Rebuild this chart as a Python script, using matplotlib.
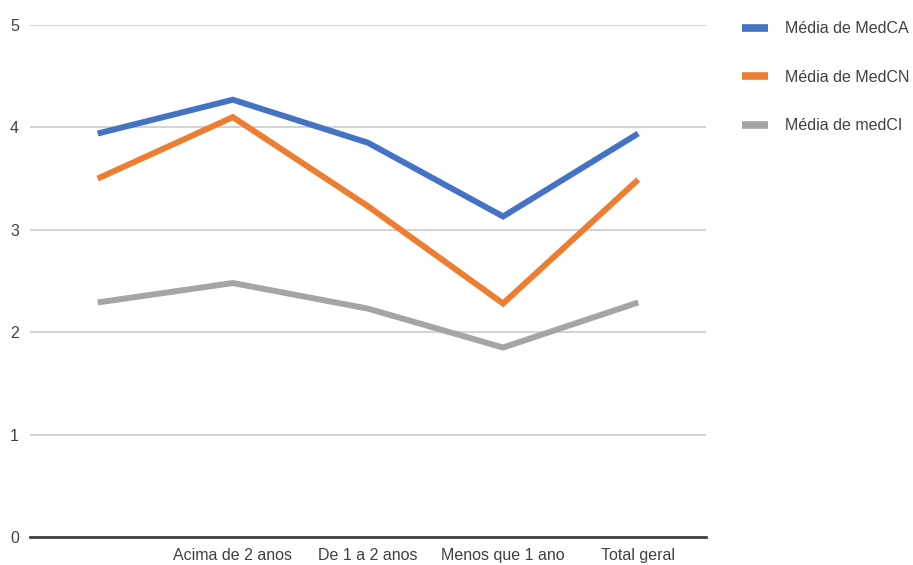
import numpy as np
import matplotlib.pyplot as plt

plt.rcParams['font.family'] = ['Liberation Sans Narrow', 'Liberation Sans', 'DejaVu Sans']

categories = ["", "Acima de 2 anos", "De 1 a 2 anos", "Menos que 1 ano", "Total geral"]
med_ca = [3.94, 4.27, 3.85, 3.13, 3.94]
med_cn = [3.50, 4.10, 3.23, 2.28, 3.49]
med_ci = [2.29, 2.48, 2.23, 1.85, 2.29]
labels = ["Média de MedCA", "Média de MedCN", "Média de medCI"]
colors = ["#4472C4", "#ED7D31", "#A5A5A5"]

fig = plt.figure(figsize=(9.13, 5.65), dpi=100)
ax = fig.add_axes([0.033, 0.0496, 0.740, 0.9062])

x = np.arange(len(categories))
for vals, lab, col in zip([med_ca, med_cn, med_ci], labels, colors):
    ax.plot(x, vals, color=col, lw=4.3, label=lab, solid_capstyle='butt', solid_joinstyle='miter')

ax.set_xlim(-0.5, len(categories) - 0.5)
ax.set_ylim(0, 5)
ax.set_yticks(range(0, 6))
ax.set_xticks(x)
ax.set_xticklabels(categories)
ax.grid(axis='y', color='#D4D4D4', lw=1.5)
ax.set_axisbelow(True)
for s in ['top', 'right', 'left']:
    ax.spines[s].set_visible(False)
ax.spines['bottom'].set_color('#404040')
ax.spines['bottom'].set_linewidth(2)
ax.tick_params(length=0, labelsize=11.5, colors='#404040')
ax.tick_params(axis='y', pad=8)
ax.tick_params(axis='x', pad=8)

leg = fig.legend(loc='upper left', bbox_to_anchor=(0.797, 0.988), frameon=False,
                 fontsize=11.5, labelspacing=2.1, handlelength=1.6, handletextpad=1.1)
for t in leg.get_texts():
    t.set_color('#404040')
for h in leg.legend_handles:
    h.set_linewidth(5.5)

plt.savefig("out.png", dpi=100)
